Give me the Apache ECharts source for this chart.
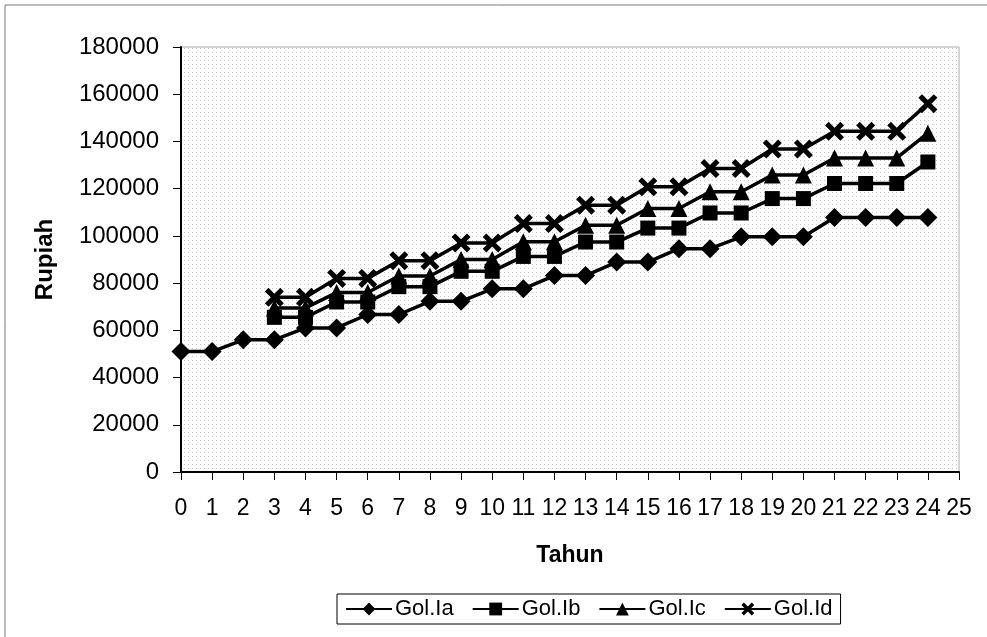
<!DOCTYPE html>
<html>
<head>
<meta charset="utf-8">
<script src="https://cdn.jsdelivr.net/npm/echarts@6/dist/echarts.min.js"></script>
<style>
  html, body { margin: 0; padding: 0; background: #fff; }
  #chart { width: 987px; height: 637px; }
</style>
</head>
<body>
<div id="chart"></div>
<script>
// Years of service (axis runs to 25, data to 24)
const tahun = ['0','1','2','3','4','5','6','7','8','9','10','11','12','13','14','15','16','17','18','19','20','21','22','23','24','25'];

// Basic salary per grade (Rupiah); null = grade not yet reachable
const golIa = [51000, 51000, 56000, 56000, 61000, 61000, 66700, 66700, 72300, 72300, 77600, 77600, 83200, 83200, 88900, 88900, 94600, 94600, 99600, 99600, 99600, 107800, 107800, 107800, 107800];
const golIb = [null, null, null, 65500, 65500, 72000, 72000, 78500, 78500, 85000, 85000, 91300, 91300, 97400, 97400, 103300, 103300, 109700, 109700, 115800, 115800, 122200, 122200, 122200, 131300];
const golIc = [null, null, null, 69500, 69500, 76000, 76000, 83000, 83000, 90000, 90000, 97500, 97500, 104500, 104500, 111600, 111600, 118700, 118700, 125800, 125800, 133000, 133000, 133000, 143500];
const golId = [null, null, null, 74000, 74000, 82000, 82000, 89500, 89500, 97000, 97000, 105200, 105200, 113000, 113000, 120800, 120800, 128500, 128500, 136800, 136800, 144300, 144300, 144300, 156000];

const yTicks = { min: 0, max: 180000, interval: 20000 };

const FONT = '"Liberation Sans", Arial, sans-serif';

// Sparse dot texture for the plot area background
const pat = document.createElement('canvas');
pat.width = 4; pat.height = 4;
const pctx = pat.getContext('2d');
pctx.fillStyle = 'rgba(120,120,120,0.42)';
pctx.fillRect(0, 0, 1, 1);

const crossPath = 'path://M0,1.9 L1.9,0 L5,3.1 L8.1,0 L10,1.9 L6.9,5 L10,8.1 L8.1,10 L5,6.9 L1.9,10 L0,8.1 L3.1,5 Z';

function mk(name, vals, symbol, size) {
  return {
    name: name,
    type: 'line',
    data: vals.map(v => v === null ? '-' : v),
    symbol: symbol,
    symbolSize: size,
    showAllSymbol: true,
    lineStyle: { color: '#000', width: 3.5 },
    itemStyle: { color: '#000', borderWidth: 0 },
    emphasis: { disabled: true },
    animation: false
  };
}

const chart = echarts.init(document.getElementById('chart'), null, { renderer: 'canvas' });
chart.setOption({
  backgroundColor: '#fff',
  animation: false,
  graphic: [{
    type: 'polyline',
    shape: { points: [[5, 640], [5, 5], [990, 5]] },
    style: { stroke: '#777', lineWidth: 1, fill: null },
    silent: true
  }],
  grid: {
    left: 181, top: 47, right: 28, bottom: 165,
    show: true,
    backgroundColor: { image: pat, repeat: 'repeat' },
    borderColor: '#aaa',
    borderWidth: 1
  },
  legend: {
    left: 337, top: 594,
    orient: 'horizontal',
    padding: [4, 8, 4, 8],
    itemGap: 18,
    itemWidth: 46,
    itemHeight: 16,
    borderColor: '#000',
    borderWidth: 1,
    backgroundColor: '#fff',
    textStyle: { fontFamily: FONT, fontSize: 22, color: '#000', padding: [0, 0, 0, -2] },
    data: ['Gol.Ia', 'Gol.Ib', 'Gol.Ic', 'Gol.Id']
  },
  xAxis: {
    type: 'category',
    data: tahun,
    boundaryGap: false,
    name: 'Tahun',
    nameLocation: 'middle',
    nameGap: 72,
    nameTextStyle: { fontFamily: FONT, fontSize: 23, fontWeight: 'bold', color: '#000' },
    axisLine: { lineStyle: { color: '#000', width: 2 } },
    axisTick: { show: true, alignWithLabel: true, interval: 0, length: 8, lineStyle: { color: '#000' } },
    axisLabel: { interval: 0, margin: 25, fontFamily: FONT, fontSize: 23, color: '#000' },
    splitLine: { show: false }
  },
  yAxis: {
    type: 'value',
    min: yTicks.min,
    max: yTicks.max,
    interval: yTicks.interval,
    name: 'Rupiah',
    nameLocation: 'middle',
    nameGap: 124,
    nameTextStyle: { fontFamily: FONT, fontSize: 24, fontWeight: 'bold', color: '#000' },
    axisLine: { show: true, lineStyle: { color: '#000', width: 2 } },
    axisTick: { show: true, length: 8, lineStyle: { color: '#000' } },
    axisLabel: { margin: 22, fontFamily: FONT, fontSize: 24, color: '#000', formatter: v => String(v) },
    splitLine: { show: false }
  },
  series: [
    mk('Gol.Ia', golIa, 'diamond', 19),
    mk('Gol.Ib', golIb, 'rect', 15),
    mk('Gol.Ic', golIc, 'triangle', 17),
    mk('Gol.Id', golId, crossPath, 19)
  ]
});
</script>
</body>
</html>
